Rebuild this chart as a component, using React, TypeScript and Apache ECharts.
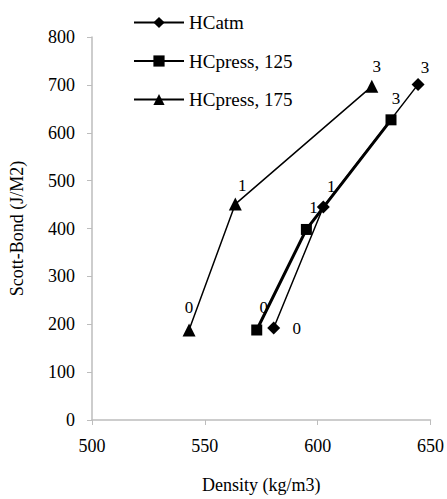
import React, { useEffect, useRef } from "react";
import * as echarts from "echarts";

const seriesNames = ["HCatm", "HCpress, 125", "HCpress, 175"];
const pointLabels = ["0", "1", "3"];
const hcAtmDensity = [580.5, 602.5, 644.5];
const hcAtmBond = [192, 445, 701];
const hcPress125Density = [573, 595, 632.5];
const hcPress125Bond = [188, 398, 627];
const hcPress175Density = [543, 563.5, 624];
const hcPress175Bond = [188, 451, 697];
const xTicks = [500, 550, 600, 650];
const yTicks = [0, 100, 200, 300, 400, 500, 600, 700, 800];

const FONT = "'Liberation Serif', 'Times New Roman', serif";

export default function App() {
  const ref = useRef<HTMLDivElement>(null);
  useEffect(() => {
    if (!ref.current) return;
    document.body.style.margin = "0";
    const chart = echarts.init(ref.current, undefined, { renderer: "svg" });
    const xs = [hcAtmDensity, hcPress125Density, hcPress175Density];
    const ys = [hcAtmBond, hcPress125Bond, hcPress175Bond];
    const symbols = ["diamond", "rect", "triangle"];
    const symbolSizes = [13, 11, 13];
    const widths = [1.5, 3, 1.5];
    const offsets = [
      [[23, 0], [8, -20], [7, -17]],
      [[7, -22], [7, -22], [5, -21]],
      [[0, -22], [7, -19], [5, -20]],
    ];
    const series = seriesNames.map((name, s) => ({
      type: "line",
      name,
      symbol: symbols[s],
      symbolSize: symbolSizes[s],
      lineStyle: { color: "#000", width: widths[s] },
      itemStyle: { color: "#000" },
      data: xs[s].map((x, i) => ({
        value: [x, ys[s][i]],
        label: {
          show: true,
          formatter: pointLabels[i],
          position: "inside",
          offset: offsets[s][i],
          color: "#000",
          fontFamily: FONT,
          fontSize: 17,
        },
      })),
    }));
    chart.setOption({
      animation: false,
      backgroundColor: "#fff",
      textStyle: { fontFamily: FONT },
      grid: { left: 89, right: 16, top: 37, bottom: 77 },
      legend: {
        orient: "vertical",
        left: 133,
        top: 13,
        padding: 0,
        itemWidth: 50,
        itemHeight: 14,
        itemGap: 19.5,
        textStyle: { fontFamily: FONT, fontSize: 19, color: "#000" },
        data: seriesNames,
      },
      xAxis: {
        type: "value",
        min: xTicks[0],
        max: xTicks[xTicks.length - 1],
        interval: 50,
        name: "Density (kg/m3)",
        nameLocation: "middle",
        nameGap: 56,
        nameTextStyle: { fontFamily: FONT, fontSize: 18, color: "#000" },
        axisLine: { show: true, lineStyle: { color: "#bdbdbd", width: 1.5 } },
        axisTick: { show: true, length: 5, lineStyle: { color: "#bdbdbd" } },
        axisLabel: { fontFamily: FONT, fontSize: 18, color: "#000", margin: 17 },
        splitLine: { show: false },
      },
      yAxis: {
        type: "value",
        min: yTicks[0],
        max: yTicks[yTicks.length - 1],
        interval: 100,
        name: "Scott-Bond (J/M2)",
        nameLocation: "middle",
        nameGap: 66,
        nameTextStyle: { fontFamily: FONT, fontSize: 18, color: "#000" },
        axisLine: { show: true, lineStyle: { color: "#bdbdbd", width: 1.5 } },
        axisTick: { show: true, length: 5, lineStyle: { color: "#bdbdbd" } },
        axisLabel: { fontFamily: FONT, fontSize: 18, color: "#000", margin: 17 },
        splitLine: { show: false },
      },
      series,
    });
    return () => chart.dispose();
  }, []);
  return <div ref={ref} style={{ width: 447, height: 499 }} />;
}
